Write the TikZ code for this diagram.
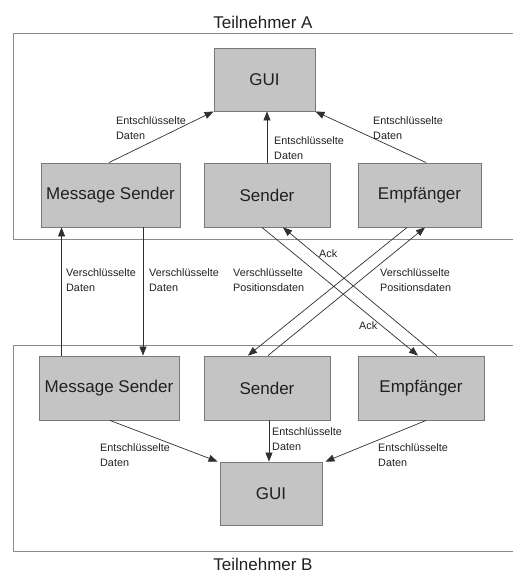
\documentclass[tikz,border=0pt]{standalone}
\usepackage{fontspec}
\setmainfont{Liberation Sans}
\usetikzlibrary{arrows.meta}
\definecolor{boxfill}{HTML}{C4C4C4}
\definecolor{boxline}{HTML}{787878}
\definecolor{frameline}{HTML}{8A8A8A}
\definecolor{conn}{HTML}{303030}
\definecolor{txt}{HTML}{202020}
\tikzset{
  comp/.style={draw=boxline, fill=boxfill, line width=0.9pt, inner sep=0pt,
    font=\fontsize{17}{20}\selectfont, text=txt},
  lbl/.style={anchor=west, align=left, inner sep=0pt, text=txt,
    font=\fontsize{10.8}{15}\selectfont},
  ttl/.style={inner sep=0pt, text=txt, font=\fontsize{17}{20}\selectfont},
  conarrow/.style={draw=conn, line width=0.7pt, -{Triangle[length=9pt,width=7pt]}},
  frame/.style={draw=frameline, line width=1pt}
}
\begin{document}
\begin{tikzpicture}[x=1pt,y=-1pt]
\useasboundingbox (0,0) rectangle (512,573);
% frames
\draw[frame] (513,33) -- (13,33) -- (13,239) -- (513,239);
\draw[frame] (513,345) -- (13,345) -- (13,551) -- (513,551);
\node[ttl] (tA) at (263,22) {Teilnehmer A};
\node[ttl] (tB) at (263,564) {Teilnehmer B};
% A boxes
\node[comp, minimum width=101pt, minimum height=63pt] (guiA) at (264.5,79.5) {GUI};
\node[comp, minimum width=139pt, minimum height=64pt] (msA) at (110.5,195) {Message Sender};
\node[comp, minimum width=126pt, minimum height=64pt] (sA) at (267,195) {Sender};
\node[comp, minimum width=123pt, minimum height=64pt] (eA) at (419.5,195) {Empfänger};
% B boxes
\node[comp, minimum width=140pt, minimum height=64pt] (msB) at (109,388) {Message Sender};
\node[comp, minimum width=126pt, minimum height=64pt] (sB) at (267,388) {Sender};
\node[comp, minimum width=126pt, minimum height=64pt] (eB) at (421,388) {Empfänger};
\node[comp, minimum width=102pt, minimum height=63pt] (guiB) at (271,493.5) {GUI};
% A internal connectors
\draw[conarrow] ([xshift=-1.5pt]msA.north) -- (guiA.south west);
\draw[conarrow] (sA.north) -- (sA.north |- guiA.south);
\draw[conarrow] ([xshift=6.5pt]eA.north) -- (guiA.south east);
% between
\draw[conarrow] ([xshift=23pt]msB.north west) -- ([xshift=23pt]msB.north west |- msA.south);
\draw[conarrow] ([xshift=32.5pt]msA.south) -- ([xshift=32.5pt]msA.south |- msB.north);
\draw[conarrow] ([xshift=-5pt]sA.south) -- ([xshift=-3pt]eB.north);
\draw[conarrow] ([xshift=16pt]eB.north) -- ([xshift=16pt]sA.south);
\draw[conarrow] ([xshift=-12.5pt]eA.south) -- ([xshift=-19pt]sB.north);
\draw[conarrow] ([xshift=1pt]sB.north) -- ([xshift=5.5pt]eA.south);
% B internal connectors
\draw[conarrow] ([xshift=1pt]msB.south) -- ([xshift=-2pt]guiB.north west);
\draw[conarrow] ([xshift=2pt]sB.south) -- ([xshift=2pt]sB.south |- guiB.north);
\draw[conarrow] ([xshift=5pt]eB.south) -- ([xshift=3pt]guiB.north east);
% labels
\node[lbl] (l1) at (116,128) {Entschlüsselte\\Daten};
\node[lbl] (l2) at (274,148) {Entschlüsselte\\Daten};
\node[lbl] (l3) at (373,128) {Entschlüsselte\\Daten};
\node[lbl] (l4) at (66,280) {Verschlüsselte\\Daten};
\node[lbl] (l5) at (149,280) {Verschlüsselte\\Daten};
\node[lbl] (l6) at (233,280) {Verschlüsselte\\Positionsdaten};
\node[lbl] (l7) at (380,280) {Verschlüsselte\\Positionsdaten};
\node[lbl] (ack1) at (319,254) {Ack};
\node[lbl] (ack2) at (359,326) {Ack};
\node[lbl] (l8) at (100,455) {Entschlüsselte\\Daten};
\node[lbl] (l9) at (272,439) {Entschlüsselte\\Daten};
\node[lbl] (l10) at (378,455) {Entschlüsselte\\Daten};
\end{tikzpicture}
\end{document}
